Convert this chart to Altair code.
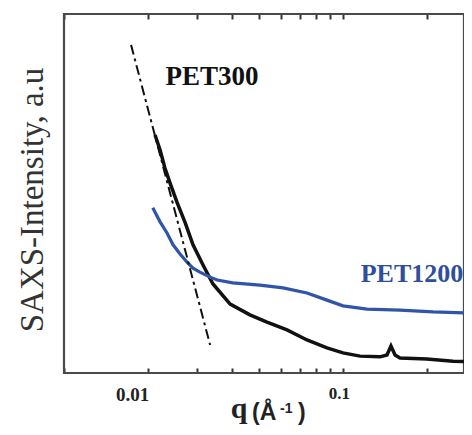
import altair as alt
import pandas as pd

# PET300 (black) SAXS curve
q300 = [0.0212, 0.0221, 0.0230, 0.0240, 0.0254, 0.0272, 0.0290, 0.0315, 0.0342, 0.0394,
        0.0464, 0.0534, 0.0630, 0.0743, 0.0876, 0.100, 0.1151, 0.1357, 0.1438, 0.1486,
        0.1537, 0.1601, 0.200, 0.248, 0.285]
i300 = [66.3, 62.1, 57.1, 52.9, 47.6, 41.8, 35.7, 30.1, 24.8, 19.2,
        16.2, 14.2, 12.0, 9.2, 7.0, 5.6, 4.7, 4.5, 5.0, 7.5,
        5.0, 4.2, 3.9, 3.3, 3.1]

# PET1200 (blue) SAXS curve
q1200 = [0.0208, 0.0221, 0.0234, 0.0246, 0.0261, 0.0276, 0.0290, 0.0307, 0.0334, 0.0354,
         0.0403, 0.0504, 0.0610, 0.0743, 0.0876, 0.100, 0.1219, 0.1601, 0.2102, 0.285]
i1200 = [46.0, 42.1, 39.0, 35.7, 33.1, 30.9, 29.2, 28.1, 26.7, 25.9,
         25.1, 24.5, 23.7, 22.3, 20.3, 18.7, 17.8, 17.5, 17.0, 16.7]

# power-law fit (dash-dot line)
qfit = [0.01739, 0.0334]
ifit = [91.4, 7.8]

# labels
lab_text = ["PET300", "PET1200"]
lab_q = [0.0339, 0.1767]
lab_i = [82.5, 27.6]
lab_size = [27, 26]

xticks = [0.01, 0.02, 0.03, 0.04, 0.05, 0.06, 0.07, 0.08, 0.09, 0.1, 0.2]
yticks = [96.9, 93.6, 90.3, 86.6, 83.3, 79.7, 76.3, 72.7, 69.4, 65.7, 62.4, 58.5,
          53.2, 48.2, 42.6, 37.0, 30.6, 24.0, 18.1, 11.4]

XDOM = [0.01, 0.2715]
YDOM = [0, 100]
W, H = 400, 359

df300 = pd.DataFrame({"q": q300, "I": i300})
df1200 = pd.DataFrame({"q": q1200, "I": i1200})
dffit = pd.DataFrame({"q": qfit, "I": ifit})
dflab = pd.DataFrame({"t": lab_text, "q": lab_q, "I": lab_i, "s": lab_size})

xs = alt.Scale(type="log", domain=XDOM, nice=False)
ys = alt.Scale(domain=YDOM, nice=False, zero=False)

TC = "#333"
bottom_axis = alt.Axis(
    orient="bottom", values=xticks, offset=-5, tickSize=5, tickWidth=2, tickColor=TC,
    domain=False, grid=False, title=None,
    labelExpr="abs(datum.value-0.01)<1e-6 ? '0.01' : (abs(datum.value-0.1)<1e-6 ? '0.1' : '')",
    labelFont="Liberation Serif", labelFontWeight="bold",
    labelFontSize={"condition": {"test": "datum.value < 0.05", "value": 19}, "value": 17},
    labelColor="#222",
    labelPadding=12, labelOverlap=False, labelFlush=False, labelBound=False,
    labelOffset={"condition": {"test": "datum.value < 0.05", "value": 68}, "value": -4},
)
top_axis = alt.Axis(
    orient="top", values=xticks, offset=-5, tickSize=5, tickWidth=2, tickColor=TC,
    domain=False, grid=False, labels=False, title=None,
)
left_axis = alt.Axis(
    orient="left", values=yticks, offset=-5, tickSize=5, tickWidth=2, tickColor=TC,
    domain=False, grid=False, labels=False, title=None,
)

one = pd.DataFrame({"a": [0]})

frame = alt.Chart(one).mark_rect(
    fill="white", fillOpacity=0, stroke="#4a4a4a", strokeWidth=2.2
).encode(x=alt.value(0), x2=alt.value(W), y=alt.value(0), y2=alt.value(H))

black = alt.Chart(df300).mark_line(color="#111", strokeWidth=3.5, clip=True).encode(
    x=alt.X("q:Q", scale=xs, axis=bottom_axis),
    y=alt.Y("I:Q", scale=ys, axis=left_axis),
)
blue = alt.Chart(df1200).mark_line(color="#2f55a8", strokeWidth=3.2, clip=True).encode(
    x=alt.X("q:Q", scale=xs, axis=top_axis),
    y=alt.Y("I:Q", scale=ys, axis=None),
)
fit = alt.Chart(dffit).mark_line(color="#111", strokeWidth=2, strokeDash=[10, 4, 3, 4]).encode(
    x=alt.X("q:Q", scale=xs, axis=None),
    y=alt.Y("I:Q", scale=ys, axis=None),
)
labels = alt.Chart(dflab).mark_text(
    font="Liberation Serif", fontWeight="bold", baseline="middle", align="center"
).encode(
    x=alt.X("q:Q", scale=xs, axis=None),
    y=alt.Y("I:Q", scale=ys, axis=None),
    text="t:N",
    size=alt.Size("s:Q", scale=None, legend=None),
    color=alt.Color("t:N", scale=alt.Scale(domain=lab_text, range=["#111111", "#2e4e9e"]), legend=None),
)

ytitle = alt.Chart(one).mark_text(
    text="SAXS-Intensity, a.u", font="Liberation Serif", fontSize=33, angle=270,
    align="center", baseline="alphabetic", color="#333"
).encode(x=alt.value(-21), y=alt.value(186))
xq = alt.Chart(one).mark_text(
    text="q", font="Liberation Serif", fontWeight="bold", fontSize=30, align="center",
    baseline="alphabetic", color="#222"
).encode(x=alt.value(175), y=alt.value(404))
xunit1 = alt.Chart(one).mark_text(
    text="(Å", font="Liberation Sans", fontWeight="bold", fontSize=23, align="left",
    baseline="alphabetic", color="#222"
).encode(x=alt.value(188), y=alt.value(406))
xunit2 = alt.Chart(one).mark_text(
    text="-1", font="Liberation Sans", fontWeight="bold", fontSize=14, align="left",
    baseline="alphabetic", color="#222"
).encode(x=alt.value(216), y=alt.value(399))
xunit3 = alt.Chart(one).mark_text(
    text=")", font="Liberation Sans", fontWeight="bold", fontSize=23, align="left",
    baseline="alphabetic", color="#222"
).encode(x=alt.value(234), y=alt.value(406))

chart = alt.layer(frame, black, blue, fit, labels, ytitle, xq, xunit1, xunit2, xunit3).properties(
    width=W, height=H,
    background="white",
    autosize=alt.AutoSizeParams(type="none"),
    padding={"left": 56, "top": 6, "right": 0, "bottom": 54},
).configure_view(stroke=None)

chart.save("out.html", embed_options={"renderer": "svg", "actions": False})
